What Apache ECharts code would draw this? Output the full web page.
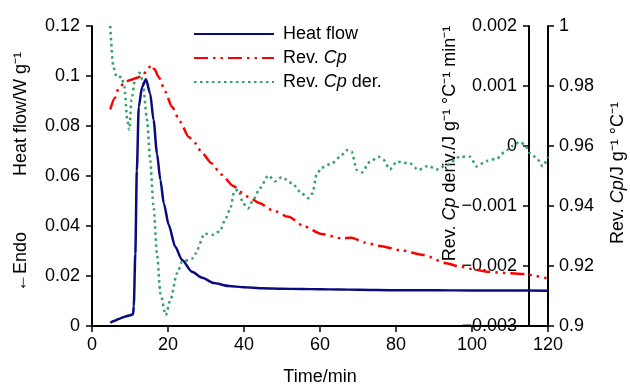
<!DOCTYPE html>
<html>
<head>
<meta charset="utf-8">
<script src="https://cdn.jsdelivr.net/npm/echarts@6/dist/echarts.min.js"></script>
<style>html,body{margin:0;padding:0;background:#fff;}#c{width:630px;height:387px;}</style>
</head>
<body>
<div id="c"></div>
<script>
// ---- data ----
const seriesNames = ['Heat flow', 'Rev. Cp', 'Rev. Cp der.'];
const xTicks = [0, 20, 40, 60, 80, 100, 120];
const hfTicks = [0, 0.02, 0.04, 0.06, 0.08, 0.1, 0.12];
const derTicks = [-0.003, -0.002, -0.001, 0, 0.001, 0.002];
const cpTicks = [0.9, 0.92, 0.94, 0.96, 0.98, 1];

const hfTime = [4.8, 6, 7, 8, 9, 10, 10.8, 11.0, 11.4, 11.8, 12.3, 13.2, 14.2, 15.3, 16.2, 17.1, 18.0, 18.9, 20.2, 21.9, 23.7, 26.3, 29, 32, 36, 40, 45, 50, 55, 60, 65, 70, 80, 90, 100, 110, 120];
const heatFlow = [0.0013, 0.0021, 0.0028, 0.0034, 0.0039, 0.0043, 0.0047, 0.0080, 0.029, 0.062, 0.0877, 0.0957, 0.0987, 0.093, 0.0824, 0.069, 0.0584, 0.049, 0.0404, 0.0317, 0.0264, 0.0217, 0.0193, 0.0172, 0.016, 0.0155, 0.0151, 0.0149, 0.0148, 0.0147, 0.0146, 0.0145, 0.0143, 0.0143, 0.0142, 0.0142, 0.0141];

const cpTime = [4.8, 6, 7, 8.8, 10.1, 11.5, 13.2, 14.5, 15.6, 16.5, 17.5, 19.3, 21, 23.2, 25.4, 27.1, 29, 31.5, 34, 37.2, 39.5, 41.6, 44, 47.3, 51.7, 56, 60.4, 65.7, 68.3, 71.8, 75.8, 81, 87.2, 93.3, 96.8, 100, 103.9, 110, 114, 117, 119.6];
const revCp = [0.9722, 0.976, 0.9792, 0.9814, 0.982, 0.9826, 0.9833, 0.9853, 0.987, 0.9855, 0.9831, 0.9781, 0.9731, 0.9681, 0.9631, 0.961, 0.9576, 0.9542, 0.9505, 0.9467, 0.9445, 0.9426, 0.941, 0.9387, 0.9364, 0.9331, 0.9307, 0.9292, 0.9294, 0.9278, 0.9267, 0.9253, 0.9237, 0.9209, 0.9198, 0.919, 0.9181, 0.9176, 0.9173, 0.9166, 0.9159];

const derTime = [4.8, 5.6, 6.5, 7.8, 8.5, 9.3, 9.8, 10.4, 11.3, 12.5, 13.3, 14.5, 15.3, 16.2, 17.1, 18, 19.4, 20.6, 22.4, 23.7, 26.3, 27.1, 29.7, 31.9, 33.7, 35, 36.3, 37.5, 38.5, 39.8, 41.1, 42.4, 44.2, 46.4, 48.2, 49.9, 52.6, 55.2, 56.9, 58, 59.1, 60.4, 63.1, 65.3, 67, 68.3, 69.7, 71, 73.2, 75.4, 76.7, 78.4, 80.2, 83.7, 85.9, 88.5, 90.7, 93.3, 96.8, 99.5, 101.2, 103.9, 106.5, 109.1, 110.5, 112.6, 113.9, 115.3, 117, 118.6, 120];
const revCpDer = [0.002, 0.00132, 0.00115, 0.00115, 0.00099, 0.00043, 0.00027, 0.00077, 0.0011, 0.00122, 0.0011, 0.00043, -0.00023, -0.00101, -0.00179, -0.00246, -0.00282, -0.00257, -0.00212, -0.00193, -0.00188, -0.0018, -0.00146, -0.00148, -0.00142, -0.00123, -0.00106, -0.00075, -0.00073, -0.00096, -0.00104, -0.0009, -0.0007, -0.00049, -0.00059, -0.00052, -0.00062, -0.00079, -0.00087, -0.00079, -0.00048, -0.00036, -0.00029, -0.00018, -0.00007, -0.00009, -0.0004, -0.00044, -0.00026, -0.00018, -0.00023, -0.00039, -0.00026, -0.00029, -0.0004, -0.00033, -0.00039, -0.00032, -0.00018, -0.00018, -0.00034, -0.00025, -0.00021, -0.00007, 0.0, 0.00007, 0.00002, -0.00012, -0.0002, -0.00034, -0.00018];

// ---- chart ----
const FONT = 'Liberation Sans, Arial, Helvetica, sans-serif';
const zip = (a, b) => a.map((t, i) => [t, b[i]]);
const fmt = v => { const r = +(+v).toFixed(4); return r === 0 ? '0' : String(r).replace('-', '\u2212'); };
const axisCommon = {
  axisLine: { show: true, lineStyle: { color: '#000', width: 2 } },
  axisTick: { show: true, length: 6, lineStyle: { color: '#000', width: 1.5 } },
  axisLabel: { color: '#000', fontSize: 18, fontFamily: FONT, formatter: fmt },
  splitLine: { show: false }
};
const richI = { i: { fontStyle: 'italic', fontSize: 18, fontFamily: FONT, color: '#000' } };

const chart = echarts.init(document.getElementById('c'), null, { renderer: 'canvas' });
chart.setOption({
  animation: false,
  backgroundColor: '#fff',
  grid: { left: 92, right: 82, top: 26, bottom: 61, containLabel: false, outerBoundsMode: 'none' },
  legend: {
    orient: 'vertical', left: 188, top: 20,
    itemWidth: 80, itemHeight: 14, itemGap: 6,
    data: seriesNames,
    itemStyle: { opacity: 0 },
    formatter: n => n.replace('Cp', '{i|Cp}'),
    textStyle: { color: '#000', fontSize: 18, fontFamily: FONT, padding: [0, 0, 0, 4], rich: richI }
  },
  xAxis: Object.assign({}, axisCommon, {
    type: 'value', min: xTicks[0], max: xTicks[xTicks.length - 1], interval: 20,
    axisLabel: Object.assign({}, axisCommon.axisLabel, { margin: 10 }),
    name: 'Time/min', nameLocation: 'middle', nameGap: 42,
    nameTextStyle: { color: '#000', fontSize: 18, fontFamily: FONT }
  }),
  yAxis: [
    Object.assign({}, axisCommon, {
      type: 'value', position: 'left', min: hfTicks[0], max: hfTicks[hfTicks.length - 1], interval: 0.02,
      axisLabel: Object.assign({}, axisCommon.axisLabel, { margin: 12 })
    }),
    Object.assign({}, axisCommon, {
      type: 'value', position: 'right', offset: -19, min: derTicks[0], max: derTicks[derTicks.length - 1], interval: 0.001,
      axisTick: Object.assign({}, axisCommon.axisTick, { inside: true }),
      axisLabel: Object.assign({}, axisCommon.axisLabel, { inside: true, margin: 12 })
    }),
    Object.assign({}, axisCommon, {
      type: 'value', position: 'right', offset: 0, min: cpTicks[0], max: cpTicks[cpTicks.length - 1], interval: 0.02,
      axisLabel: Object.assign({}, axisCommon.axisLabel, { margin: 11 })
    })
  ],
  series: [
    { name: seriesNames[0], type: 'line', yAxisIndex: 0, data: zip(hfTime, heatFlow), symbol: 'none', smooth: 0.25, smoothMonotone: 'x',
      lineStyle: { color: '#0b0b80', width: 2.5 }, itemStyle: { color: '#0b0b80' }, z: 3 },
    { name: seriesNames[1], type: 'line', yAxisIndex: 2, data: zip(cpTime, revCp), symbol: 'none', smooth: 0.25, smoothMonotone: 'x',
      lineStyle: { color: '#ff0000', width: 2.5, type: [14, 5, 2.5, 5, 2.5, 5], cap: 'butt' }, itemStyle: { color: '#ff0000' }, z: 2 },
    { name: seriesNames[2], type: 'line', yAxisIndex: 1, data: zip(derTime, revCpDer), symbol: 'none', smooth: 0.25, smoothMonotone: 'x',
      lineStyle: { color: '#34a06a', width: 2.5, type: [2.5, 3.5], cap: 'butt' }, itemStyle: { color: '#34a06a' }, z: 1 }
  ],
  graphic: [
    { type: 'text', x: 21, y: 262, rotation: Math.PI / 2,
      style: { text: '\u2190Endo', fill: '#000', font: '18px ' + FONT, align: 'center', verticalAlign: 'middle' } },
    { type: 'text', x: 21, y: 114, rotation: Math.PI / 2,
      style: { text: 'Heat flow/W g\u207B\u00B9', fill: '#000', font: '18px ' + FONT, align: 'center', verticalAlign: 'middle' } },
    { type: 'text', x: 450, y: 143.5, rotation: Math.PI / 2,
      style: { text: 'Rev. {i|Cp} deriv./J g\u207B\u00B9 \u00B0C\u207B\u00B9 min\u207B\u00B9', rich: richI, fill: '#000', font: '18px ' + FONT, align: 'center', verticalAlign: 'middle' } },
    { type: 'text', x: 618, y: 173, rotation: Math.PI / 2,
      style: { text: 'Rev. {i|Cp}/J g\u207B\u00B9 \u00B0C\u207B\u00B9', rich: richI, fill: '#000', font: '18px ' + FONT, align: 'center', verticalAlign: 'middle' } }
  ]
});
</script>
</body>
</html>
